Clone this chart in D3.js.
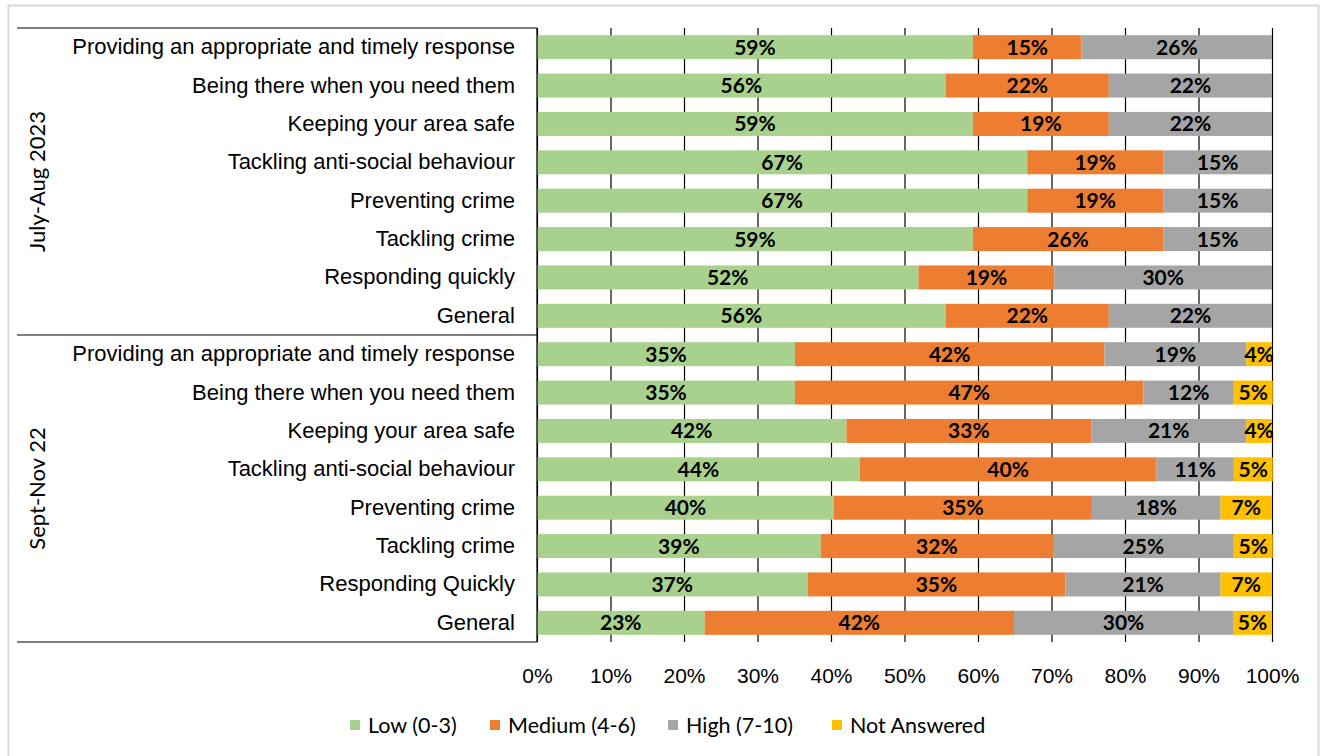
<!DOCTYPE html>
<html>
<head>
<meta charset="utf-8">
<script src="https://cdn.jsdelivr.net/npm/d3@7"></script>
<style>
  body { margin: 0; background: #fff; }
  svg { font-family: Lato, "Open Sans", sans-serif; }
  .cat-label { font-size: 22px; fill: #000; }
  .val-label { font-size: 21px; font-weight: bold; fill: #000; }
  .tick-label { font-size: 21px; fill: #000; }
  .legend-label { font-size: 21.5px; fill: #000; }
</style>
</head>
<body>
<svg></svg>
<script>
const width = 1325;
const height = 756;
const margin = { top: 28, right: 53, bottom: 114, left: 537 };

const svg = d3.select("svg").attr("width", width).attr("height", height);

// Datos
const groups = ["July-Aug 2023", "Sept-Nov 22"];
const categoriesJuly = [
  "Providing an appropriate and timely response",
  "Being there when you need them",
  "Keeping your area safe",
  "Tackling anti-social behaviour",
  "Preventing crime",
  "Tackling crime",
  "Responding quickly",
  "General"
];
const categoriesSept = [
  "Providing an appropriate and timely response",
  "Being there when you need them",
  "Keeping your area safe",
  "Tackling anti-social behaviour",
  "Preventing crime",
  "Tackling crime",
  "Responding Quickly",
  "General"
];
const series = ["Low (0-3)", "Medium (4-6)", "High (7-10)", "Not Answered"];
const colors = ["#A9D18E", "#ED7D31", "#A5A5A5", "#FFC000"];

// porcentajes por fila (arriba a abajo)
const lowJuly = [59.3, 55.6, 59.3, 66.7, 66.7, 59.3, 51.9, 55.6];
const mediumJuly = [14.8, 22.2, 18.5, 18.5, 18.5, 25.9, 18.5, 22.2];
const highJuly = [25.9, 22.2, 22.2, 14.8, 14.8, 14.8, 29.6, 22.2];
const naJuly = [0, 0, 0, 0, 0, 0, 0, 0];

const lowSept = [35.1, 35.1, 42.1, 43.9, 40.4, 38.6, 36.8, 22.8];
const mediumSept = [42.1, 47.4, 33.3, 40.4, 35.1, 31.6, 35.1, 42.1];
const highSept = [19.3, 12.3, 21.1, 10.5, 17.5, 24.6, 21.1, 29.8];
const naSept = [3.5, 5.3, 3.5, 5.3, 7.0, 5.3, 7.0, 5.3];

const xTicks = [0, 10, 20, 30, 40, 50, 60, 70, 80, 90, 100];

// filas
const rows = [];
categoriesJuly.forEach((c, i) => rows.push({
  key: groups[0] + "|" + i, group: groups[0], cat: c,
  values: [lowJuly[i], mediumJuly[i], highJuly[i], naJuly[i]]
}));
categoriesSept.forEach((c, i) => rows.push({
  key: groups[1] + "|" + i, group: groups[1], cat: c,
  values: [lowSept[i], mediumSept[i], highSept[i], naSept[i]]
}));

const stacked = d3.stack()
  .keys(d3.range(series.length))
  .value((d, k) => d.values[k])(rows);

const x = d3.scaleLinear()
  .domain([0, 100])
  .range([margin.left, width - margin.right]);

const y = d3.scaleBand()
  .domain(rows.map(d => d.key))
  .range([margin.top, height - margin.bottom])
  .paddingInner(0.375)
  .paddingOuter(0.1875);

const plotBottom = height - margin.bottom;

// borde exterior
svg.append("rect")
  .attr("x", 8.5).attr("y", 5.5)
  .attr("width", 1310).attr("height", 800)
  .attr("fill", "none")
  .attr("stroke", "#d9d9d9")
  .attr("stroke-width", 2);

// lineas de cuadricula
svg.append("g")
  .attr("transform", `translate(0, ${plotBottom})`)
  .call(d3.axisBottom(x).tickValues(xTicks).tickSize(-(plotBottom - margin.top)).tickFormat(""))
  .call(g => g.select(".domain").remove())
  .selectAll("line")
  .attr("stroke", "#000")
  .attr("stroke-width", 1.2);

// barras
const layers = svg.append("g")
  .selectAll("g")
  .data(stacked)
  .join("g")
  .attr("fill", (d, i) => colors[i]);

layers.selectAll("rect")
  .data(d => d.map(s => ({ s, row: s.data })))
  .join("rect")
  .attr("x", d => x(d.s[0]))
  .attr("y", d => y(d.row.key))
  .attr("width", d => x(d.s[1]) - x(d.s[0]))
  .attr("height", y.bandwidth());

// etiquetas de valor
layers.selectAll("text")
  .data(d => d.filter(s => s[1] - s[0] > 0).map(s => ({ s, row: s.data })))
  .join("text")
  .attr("class", "val-label")
  .attr("x", d => (x(d.s[0]) + x(d.s[1])) / 2)
  .attr("y", d => y(d.row.key) + y.bandwidth() / 2)
  .attr("dy", "0.36em")
  .attr("text-anchor", "middle")
  .text(d => Math.round(d.s[1] - d.s[0]) + "%");

// Eje X
svg.append("g")
  .attr("transform", `translate(0, ${plotBottom})`)
  .call(d3.axisBottom(x).tickValues(xTicks).tickSize(0).tickPadding(26).tickFormat(d => d + "%"))
  .call(g => g.select(".domain").remove())
  .selectAll("text")
  .attr("class", "tick-label");

// Eje Y (categorias)
svg.append("g")
  .attr("transform", `translate(${margin.left}, 0)`)
  .call(d3.axisLeft(y).tickSize(0).tickPadding(22).tickFormat(k => rows.find(r => r.key === k).cat))
  .call(g => g.select(".domain").remove())
  .selectAll("text")
  .attr("class", "cat-label");

// linea vertical del eje y
svg.append("line")
  .attr("x1", margin.left).attr("x2", margin.left)
  .attr("y1", margin.top).attr("y2", plotBottom)
  .attr("stroke", "#000").attr("stroke-width", 1.2);

// separadores de grupo
const sepY = [margin.top, (margin.top + plotBottom) / 2, plotBottom];
svg.selectAll(".sep")
  .data(sepY)
  .join("line")
  .attr("x1", 17).attr("x2", margin.left)
  .attr("y1", d => d).attr("y2", d => d)
  .attr("stroke", "#000").attr("stroke-width", 1.2);

// etiquetas de grupo
groups.forEach((g, gi) => {
  const keys = rows.filter(r => r.group === g).map(r => r.key);
  const cy = (y(keys[0]) + y(keys[keys.length - 1]) + y.bandwidth()) / 2;
  svg.append("text")
    .attr("class", "cat-label")
    .attr("transform", `translate(37, ${cy}) rotate(-90)`)
    .attr("dy", "0.36em")
    .attr("text-anchor", "middle")
    .text(g);
});

// Leyenda
const legendX = [350, 490, 668, 832];
const legend = svg.append("g").attr("transform", "translate(0, 725)");
series.forEach((s, i) => {
  legend.append("rect")
    .attr("x", legendX[i]).attr("y", -5)
    .attr("width", 10).attr("height", 10)
    .attr("fill", colors[i]);
  legend.append("text")
    .attr("class", "legend-label")
    .attr("x", legendX[i] + 18)
    .attr("y", 0)
    .attr("dy", "0.36em")
    .text(s);
});
</script>
</body>
</html>
